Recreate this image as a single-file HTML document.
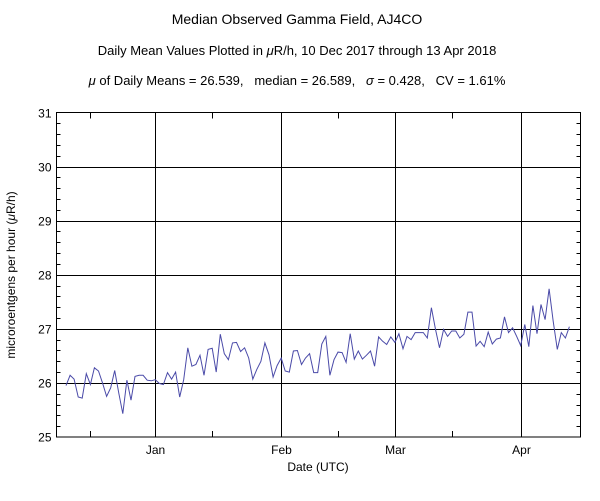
<!DOCTYPE html>
<html><head><meta charset="utf-8"><style>
body{margin:0;background:#fff;}
svg text{font-family:"Liberation Sans",sans-serif;fill:#000;}
</style></head><body>
<svg id="chart" width="600" height="496" viewBox="0 0 600 496">
<text x="297" y="24" font-size="14" text-anchor="middle">Median Observed Gamma Field, AJ4CO</text>
<text x="297" y="55" font-size="13" text-anchor="middle">Daily Mean Values Plotted in <tspan font-style="italic">μ</tspan>R/h, 10 Dec 2017 through 13 Apr 2018</text>
<text x="297" y="85" font-size="13" text-anchor="middle" style="white-space:pre" xml:space="preserve"><tspan font-style="italic">μ</tspan> of Daily Means = 26.539,   median = 26.589,   <tspan font-style="italic">σ</tspan> = 0.428,   CV = 1.61%</text>
<g id="grid"></g>
<g id="series"></g>
<rect x="56.5" y="112.5" width="524" height="324.5" fill="none" stroke="#000" stroke-width="1"/>
<text x="15" y="275" font-size="12" text-anchor="middle" transform="rotate(-90 15 275)">microroentgens per hour (<tspan font-style="italic">μ</tspan>R/h)</text>
<text x="318" y="471" font-size="12" text-anchor="middle">Date (UTC)</text>
</svg>
<script>
const yTicks=[25,26,27,28,29,30,31];
const monthLabels=["Jan","Feb","Mar","Apr"];
const monthDayIndex=[22,53,81,112];
const midMonthIndex=[6,36,67,95];
const values=[25.95,26.14,26.07,25.74,25.72,26.17,25.97,26.28,26.22,26.0,25.75,25.91,26.23,25.81,25.43,26.05,25.68,26.12,26.14,26.14,26.05,26.04,26.06,25.99,25.97,26.19,26.07,26.2,25.74,26.06,26.65,26.31,26.34,26.51,26.14,26.62,26.64,26.2,26.9,26.54,26.43,26.74,26.75,
26.58,26.65,26.46,26.07,26.25,26.4,26.74,26.52,26.11,26.32,26.46,26.22,26.2,26.59,26.6,26.34,26.46,26.54,26.19,26.19,26.72,26.86,26.14,26.43,26.57,26.56,26.38,26.91,26.44,26.59,26.44,26.51,26.59,26.31,26.85,26.77,26.71,26.85,26.75,26.91,26.63,26.86,
26.8,26.93,26.93,26.93,26.83,27.39,26.99,26.65,26.99,26.86,26.96,26.96,26.83,26.9,27.31,27.31,26.68,26.77,26.67,26.94,26.72,26.81,26.83,27.22,26.93,27.02,26.86,26.69,27.08,26.67,27.43,26.91,27.45,27.17,27.74,27.14,26.62,26.93,26.83,27.04];
const NS="http://www.w3.org/2000/svg";
const L=56.5,R=580.5,T=112.5,B=437;
const yMin=25,yMax=31;
function ys(v){return B-(v-yMin)/(yMax-yMin)*(B-T);}
function xs(i){return 66+i*4.06;}
const grid=document.getElementById('grid');
function line(x1,y1,x2,y2,c,w,name){const l=document.createElementNS(NS,'line');
l.setAttribute('x1',x1);l.setAttribute('y1',y1);l.setAttribute('x2',x2);l.setAttribute('y2',y2);
l.setAttribute('stroke',c);l.setAttribute('stroke-width',w);


grid.appendChild(l);return l;}
function text(x,y,s,anchor,name){const t=document.createElementNS(NS,'text');
t.setAttribute('x',x);t.setAttribute('y',y);t.setAttribute('font-size','12');t.setAttribute('text-anchor',anchor);t.textContent=s;


grid.appendChild(t);}
yTicks.forEach(v=>{const y=Math.round(ys(v))+0.5;
if(v>yMin&&v<yMax)line(L,y,R,y,'#000',1,'y-gridline');
text(L-5,y+4,String(v),'end','y-tick-label');});
for(let v=yMin+0.2;v<yMax-0.01;v+=0.2){const y=Math.round(ys(v))+0.5;
line(L,y,L+4,y,'#000',1,'y-minor-tick');line(R-4,y,R,y,'#000',1,'y-minor-tick');}
monthDayIndex.forEach((d,k)=>{const x=Math.round(xs(d))+0.5;
line(x,T,x,B,'#000',1,'x-gridline');
text(x,B+17,monthLabels[k],'middle','x-tick-label');});
midMonthIndex.forEach(d=>{const x=Math.round(xs(d))+0.5;
line(x,B-6,x,B,'#000',1,'x-minor-tick');line(x,T,x,T+6,'#000',1,'x-minor-tick');});
const p=document.createElementNS(NS,'polyline');
p.setAttribute('points',values.map((v,i)=>xs(i).toFixed(1)+','+ys(v).toFixed(1)).join(' '));
p.setAttribute('fill','none');p.setAttribute('stroke','#4a4aa8');p.setAttribute('stroke-width','1');


document.getElementById('series').appendChild(p);
</script>
</body></html>
